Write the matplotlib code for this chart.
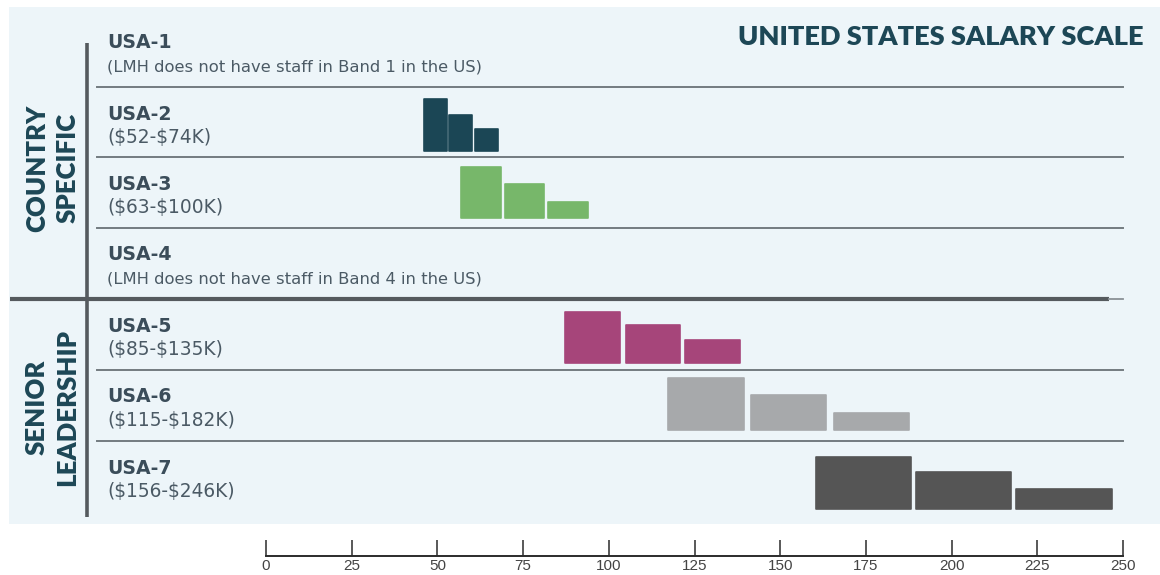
"""
plot.py
United States salary scale: stepped bars per band on a $K axis.
"""

import matplotlib.pyplot as plt
from matplotlib.patches import Rectangle

plt.rcParams['font.family'] = ['Lato', 'DejaVu Sans']

# ---- data (salary in $K, bar heights) ----
bands = ['USA-1', 'USA-2', 'USA-3', 'USA-4', 'USA-5', 'USA-6', 'USA-7']
band_notes = [
    '(LMH does not have staff in Band 1 in the US)',
    r'(\$52-\$74K)',
    r'(\$63-\$100K)',
    '(LMH does not have staff in Band 4 in the US)',
    r'(\$85-\$135K)',
    r'(\$115-\$182K)',
    r'(\$156-\$246K)',
]
groups = ['COUNTRY\nSPECIFIC', 'SENIOR\nLEADERSHIP']

usa2_left = [46.1, 53.4, 60.9]
usa2_right = [52.9, 60.1, 67.6]
usa2_height = [52, 36, 21.4]

usa3_left = [57.0, 69.6, 82.3]
usa3_right = [68.5, 81.1, 93.9]
usa3_height = [51.3, 34.6, 16.3]

usa5_left = [87.3, 104.9, 122.3]
usa5_right = [103.3, 120.7, 138.3]
usa5_height = [51, 37.7, 22.7]

usa6_left = [117.3, 141.5, 165.6]
usa6_right = [139.3, 163.4, 187.5]
usa6_height = [51.7, 34.7, 16.7]

usa7_left = [160.4, 189.5, 218.9]
usa7_right = [188.3, 217.2, 246.8]
usa7_height = [51.7, 36.7, 20]

scale_ticks = [0, 25, 50, 75, 100, 125, 150, 175, 200, 225, 250]

# ---- layout (pixels, y down) ----
W, H = 1160, 575
band_top = [16, 87, 157, 228, 299, 370, 441]
bar_base = [None, 150.7, 218.3, None, 362.7, 430, 509]
series = {
    1: (usa2_left, usa2_right, usa2_height, '#1b4655'),
    2: (usa3_left, usa3_right, usa3_height, '#77b76a'),
    4: (usa5_left, usa5_right, usa5_height, '#a6457a'),
    5: (usa6_left, usa6_right, usa6_height, '#a7a9ab'),
    6: (usa7_left, usa7_right, usa7_height, '#555555'),
}
TEAL = '#1d4756'
LABEL = '#3b4d5a'
NOTE = '#4b5a65'
ROW_FONT = ['DejaVu Sans']

fig = plt.figure(figsize=(W / 100, H / 100), dpi=100)

# decoration layer in pixel coordinates
deco = fig.add_axes([0, 0, 1, 1])
deco.set_xlim(0, W)
deco.set_ylim(H, 0)
deco.axis('off')

deco.add_patch(Rectangle((9, 7), W - 9, 517, facecolor='#edf5f9', edgecolor='none'))

# separators
for k, y in enumerate(band_top[1:], start=1):
    if k == 4:
        deco.plot([10, 1109], [y, y], color='#555a5e', lw=3, solid_capstyle='butt')
        deco.plot([1109, 1123], [y, y], color='#8a9196', lw=1.3)
    else:
        deco.plot([97, 1123], [y, y], color='#737b80', lw=1.4)
deco.plot([87, 87], [43, 517], color='#555a5e', lw=2.6, solid_capstyle='butt')

# row labels
for i, (name, note) in enumerate(zip(bands, band_notes)):
    y0 = band_top[i]
    deco.text(107, y0 + 27, name, family=ROW_FONT, fontsize=13.6, fontweight='bold',
              color=LABEL, ha='left', va='center')
    small = note.startswith('(LMH')
    deco.text(107, y0 + 50.5, note, family=ROW_FONT, fontsize=11.8 if small else 13.4,
              color=NOTE, ha='left', va='center')

# group labels
deco.text(52, 168, groups[0], rotation=90, fontsize=18.5, fontweight='heavy', color=TEAL,
          ha='center', va='center', linespacing=1.32, multialignment='center')
deco.text(52, 407, groups[1], rotation=90, fontsize=18.5, fontweight='heavy', color=TEAL,
          ha='center', va='center', linespacing=1.32, multialignment='center')

deco.text(1144, 37, 'UNITED STATES SALARY SCALE', fontsize=19.6, fontweight='heavy',
          color=TEAL, ha='right', va='center')

# bar layer: x in $K, y in pixels
ax = fig.add_axes([266 / W, 0, (1123 - 266) / W, 1])
ax.set_xlim(0, 250)
ax.set_ylim(H, 0)
ax.axis('off')
ax.patch.set_alpha(0)

for i, (lefts, rights, heights, color) in series.items():
    widths = [r - l for l, r in zip(lefts, rights)]
    bottoms = [bar_base[i] - h for h in heights]
    ax.bar(lefts, heights, width=widths, bottom=bottoms, align='edge',
           color=color, edgecolor=color, linewidth=1.2, joinstyle='round')

# salary axis at the bottom
sc = fig.add_axes([266 / W, (H - 556) / H, (1123 - 266) / W, 0.06])
sc.set_xlim(0, 250)
sc.patch.set_alpha(0)
for s in ['top', 'left', 'right']:
    sc.spines[s].set_visible(False)
sc.spines['bottom'].set_color('#2b2b2b')
sc.spines['bottom'].set_linewidth(1.4)
sc.set_yticks([])
sc.set_xticks(scale_ticks)
sc.set_xticklabels([str(t) for t in scale_ticks], family=['Liberation Sans'])
sc.tick_params(axis='x', direction='in', length=11.5, width=1.1, color='#2b2b2b',
               pad=2, labelsize=11, labelcolor='#444444')

fig.savefig('out.png', dpi=100)
